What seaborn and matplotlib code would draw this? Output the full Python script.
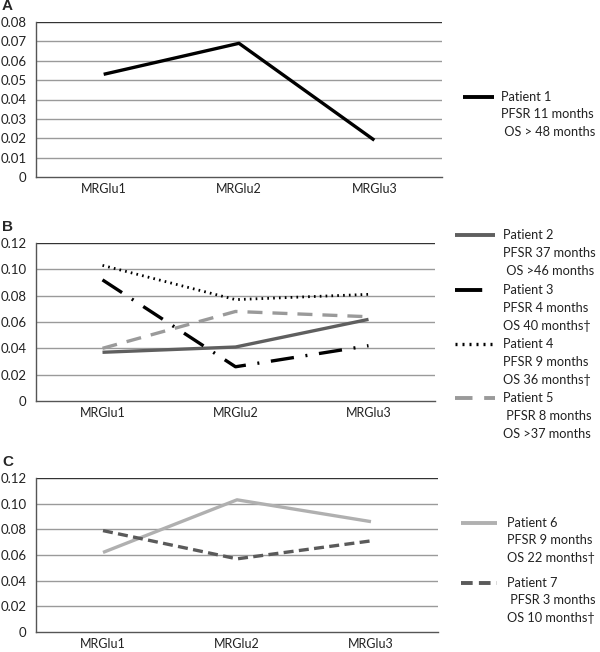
"""
MRGlu time courses per patient - three panels (A, B, C)
"""
import matplotlib
matplotlib.use("Agg")
import matplotlib.pyplot as plt
import seaborn as sns
import pandas as pd
from matplotlib.lines import Line2D

# data
scans = ["MRGlu1", "MRGlu2", "MRGlu3"]

patient1 = [0.053, 0.069, 0.019]

patient2 = [0.037, 0.041, 0.062]
patient3 = [0.092, 0.026, 0.042]
patient4 = [0.103, 0.077, 0.081]
patient5 = [0.040, 0.068, 0.064]

patient6 = [0.062, 0.103, 0.086]
patient7 = [0.079, 0.057, 0.071]

legend_text = {
    "Patient 1": ["Patient 1", "PFSR 11 months", " OS > 48 months"],
    "Patient 2": ["Patient 2", "PFSR 37 months", " OS >46 months"],
    "Patient 3": ["Patient 3", "PFSR 4 months", "OS 40 months\u2020"],
    "Patient 4": ["Patient 4", "PFSR 9 months", "OS 36 months\u2020"],
    "Patient 5": ["Patient 5", " PFSR 8 months", "OS >37 months"],
    "Patient 6": ["Patient 6", "PFSR 9 months", "OS 22 months\u2020"],
    "Patient 7": ["Patient 7", " PFSR 3 months", "OS 10 months\u2020"],
}

styles = {
    "Patient 1": dict(color="black", lw=2.4, ls="-"),
    "Patient 2": dict(color="#5f5f5f", lw=2.4, ls="-"),
    "Patient 3": dict(color="black", lw=2.4, ls=(0, (7, 3.5, 0.6, 3.5))),
    "Patient 4": dict(color="black", lw=2.0, ls=(0, (0.6, 1.5))),
    "Patient 5": dict(color="#9a9a9a", lw=2.4, ls=(0, (4.5, 3))),
    "Patient 6": dict(color="#b0b0b0", lw=2.4, ls="-"),
    "Patient 7": dict(color="#5a5a5a", lw=2.4, ls=(0, (3, 1.6))),
}

sns.set_style("white")
plt.rcParams["font.family"] = ["Lato", "DejaVu Sans"]

W, H = 600, 652
fig = plt.figure(figsize=(6.0, 6.52), dpi=100)


def px_axes(left, top, right, bottom):
    return fig.add_axes([left / W, 1 - bottom / H, (right - left) / W, (bottom - top) / H])


def draw_panel(ax, series, ymax, step, fmt):
    frames = []
    for name, vals in series.items():
        frames.append(pd.DataFrame({"scan": scans, "value": vals, "patient": name}))
    df = pd.concat(frames)
    for name in series:
        sub = df[df["patient"] == name]
        st = styles[name]
        sns.lineplot(data=sub, x="scan", y="value", ax=ax, color=st["color"],
                     linewidth=st["lw"], linestyle=st["ls"], sort=False,
                     dash_capstyle="butt", solid_capstyle="butt")
    ax.set_xlim(-0.5, 2.5)
    ax.set_ylim(0, ymax)
    n = int(round(ymax / step))
    yt = [i * step for i in range(n + 1)]
    ax.set_yticks(yt)
    ax.set_yticklabels(["0"] + [fmt.format(v) for v in yt[1:]])
    ax.set_xticks([0, 1, 2])
    ax.set_xticklabels(scans)
    ax.set_xticks([-0.5, 0.5, 1.5, 2.5], minor=True)
    ax.tick_params(axis="x", which="major", length=0, pad=4, labelsize=9, colors="#222222")
    ax.tick_params(axis="x", which="minor", length=5, width=1, color="#555555", direction="out")
    ax.tick_params(axis="y", length=5, width=1, color="#555555", direction="out", pad=2,
                   labelsize=9.5, labelcolor="#222222")
    ax.set_xlabel("")
    ax.set_ylabel("")
    for v in yt[1:]:
        ax.axhline(v, color="#333333" if v == yt[-1] else "#9a9a9a", lw=1.0, zorder=0)
    for s in ["top", "right"]:
        ax.spines[s].set_visible(False)
    ax.spines["left"].set_color("#555555")
    ax.spines["bottom"].set_color("#555555")
    ax.spines["left"].set_linewidth(1.0)
    ax.spines["bottom"].set_linewidth(1.0)
    ax.legend_ = None


def draw_legend(names, line_x0, line_x1, text_x, first_ys, dy=17.5):
    for name, y0 in zip(names, first_ys):
        st = styles[name]
        fig.add_artist(Line2D([line_x0 / W, line_x1 / W], [1 - y0 / H, 1 - y0 / H],
                              color=st["color"], lw=st["lw"] + 0.4, linestyle=st["ls"],
                              dash_capstyle="butt", solid_capstyle="butt",
                              transform=fig.transFigure))
        for i, line in enumerate(legend_text[name]):
            fig.text(text_x / W, 1 - (y0 + i * dy) / H, line, fontsize=9.2,
                     va="center", ha="left", color="#222222")


axA = px_axes(36, 22, 442, 177)
draw_panel(axA, {"Patient 1": patient1}, 0.08, 0.01, "{:.2f}")
axB = px_axes(36, 243, 435, 401)
draw_panel(axB, {"Patient 2": patient2, "Patient 3": patient3,
                 "Patient 4": patient4, "Patient 5": patient5}, 0.12, 0.02, "{:.2f}")
axC = px_axes(36, 478, 438, 632)
draw_panel(axC, {"Patient 6": patient6, "Patient 7": patient7}, 0.12, 0.02, "{:.2f}")

for lab, y in [("A", 6), ("B", 227), ("C", 462)]:
    fig.text(2 / W, 1 - y / H, lab, fontsize=11, fontweight="bold", va="center",
             ha="left", family=["Liberation Sans", "DejaVu Sans"])

draw_legend(["Patient 1"], 463, 494, 501, [97])
draw_legend(["Patient 2", "Patient 3", "Patient 4", "Patient 5"], 455, 495, 503,
            [235, 290, 344, 398], dy=18.2)
draw_legend(["Patient 6", "Patient 7"], 461, 497, 507, [523, 583])

fig.savefig("out.png", dpi=100)
